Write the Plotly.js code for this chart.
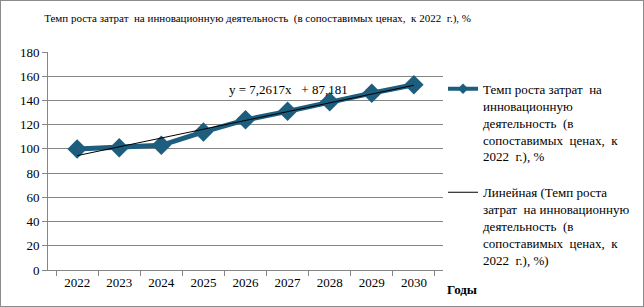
<!DOCTYPE html>
<html>
<head>
<meta charset="utf-8">
<script src="https://cdn.plot.ly/plotly-3.0.1.min.js"></script>
<style>
html,body{margin:0;padding:0;background:#fff;}
#wrap{position:relative;width:644px;height:307px;}
#chart{width:644px;height:307px;}
#frame{position:absolute;left:0;top:0;width:644px;height:307px;box-sizing:border-box;border:1px solid #8c8c8c;pointer-events:none;}
</style>
</head>
<body>
<div id="wrap"><div id="chart"></div><div id="frame"></div></div>
<script>
const years = ['2022','2023','2024','2025','2026','2027','2028','2029','2030'];
const growthRate = [100, 101, 103, 114, 124, 131, 139, 146, 153];
const trendSlope = 7.2617;
const trendIntercept = 87.181;
const seriesName = 'Темп роста затрат  на<br>инновационную<br>деятельность  (в<br>сопоставимых  ценах,  к<br>2022  г.), %';
const trendName = 'Линейная (Темп роста<br>затрат  на инновационную<br>деятельность  (в<br>сопоставимых  ценах,  к<br>2022  г.), %)';
const titleText = 'Темп роста затрат  на инновационную деятельность  (в сопоставимых ценах,  к 2022  г.), %';
const equationText = 'y = 7,2617x   + 87,181';

const trendY = years.map((_, i) => trendSlope * (i + 1) + trendIntercept);
const serif = 'Liberation Serif';
const blue = '#1d5e7f';

const traces = [
  {
    x: years, y: growthRate, type: 'scatter', mode: 'lines+markers',
    name: seriesName, showlegend: false,
    line: {color: blue, width: 5},
    marker: {symbol: 'diamond', size: 15, color: blue}
  },
  {
    x: [years[0]], y: [null], type: 'scatter', mode: 'lines+markers',
    name: seriesName, legendgroup: 'a',
    line: {color: blue, width: 4},
    marker: {symbol: 'diamond', size: 8, color: blue}
  },
  {
    x: years, y: trendY, type: 'scatter', mode: 'lines',
    name: trendName, legendgroup: 'b',
    line: {color: '#000000', width: 1}
  }
];

const layout = {
  width: 644, height: 307,
  margin: {l: 48, r: 201, t: 52, b: 37, autoexpand: false},
  paper_bgcolor: '#ffffff', plot_bgcolor: '#ffffff',
  font: {family: serif, size: 13, color: '#000'},
  title: {text: titleText, x: 0.4, xanchor: 'center', y: 0.94, yanchor: 'middle',
          font: {family: serif, size: 11, color: '#000'}},
  showlegend: true,
  legend: {x: 1.0, xanchor: 'left', y: 0.9, yanchor: 'top', valign: 'top',
           font: {family: serif, size: 13, color: '#000'},
           tracegroupgap: 16, itemwidth: 30, bgcolor: 'rgba(0,0,0,0)'},
  xaxis: {
    type: 'category', tickson: 'boundaries', ticks: 'outside', ticklen: 5,
    tickcolor: '#868686', showline: true, linecolor: '#868686', linewidth: 1,
    showgrid: false, zeroline: false, tickfont: {family: serif, size: 13},
    fixedrange: true
  },
  yaxis: {
    range: [0, 180], dtick: 20, ticks: 'outside', ticklen: 5, tickcolor: '#868686',
    showline: true, linecolor: '#868686', linewidth: 1,
    showgrid: true, gridcolor: '#868686', gridwidth: 1, zeroline: false,
    tickfont: {family: serif, size: 13}, fixedrange: true
  },
  annotations: [
    {text: equationText, xref: 'paper', yref: 'y', x: 0.61, y: 149, xanchor: 'center',
     yanchor: 'middle', showarrow: false, font: {family: serif, size: 13, color: '#000'}},
    {text: '<b>Годы</b>', xref: 'paper', yref: 'paper', x: 1.005, y: -0.09, xanchor: 'left',
     yanchor: 'middle', showarrow: false, font: {family: serif, size: 13, color: '#000'}}
  ]
};

Plotly.newPlot('chart', traces, layout, {displayModeBar: false, staticPlot: true});
</script>
</body>
</html>
